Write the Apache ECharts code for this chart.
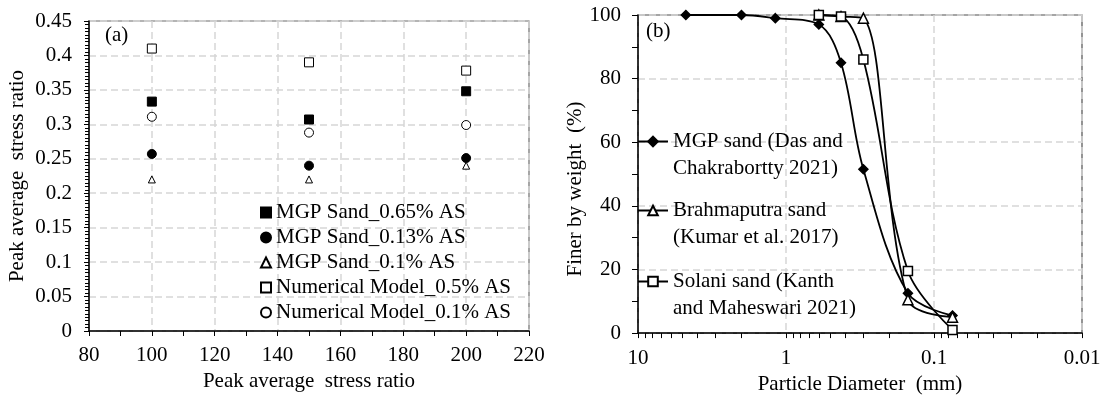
<!DOCTYPE html>
<html>
<head>
<meta charset="utf-8">
<script src="https://cdn.jsdelivr.net/npm/echarts@6/dist/echarts.min.js"></script>
<style>
  html, body { margin: 0; padding: 0; background: #fff; }
  #chart { width: 1104px; height: 400px; }
</style>
</head>
<body>
<div id="chart"></div>
<script>
// panel (a)
const stressLevels = [100, 150, 200];
const mgp065 = [0.333, 0.307, 0.348];
const mgp013 = [0.257, 0.240, 0.251];
const mgp010 = [0.220, 0.220, 0.240];
const num05 = [0.410, 0.390, 0.378];
const num01 = [0.311, 0.288, 0.299];

// panel (b)
const mgpDia = [4.75, 2, 1.18, 0.6, 0.425, 0.3, 0.15, 0.075];
const mgpFiner = [100, 100, 99, 97, 85, 51.5, 12.5, 5.5];
const brahDia = [0.6, 0.425, 0.3, 0.15, 0.075];
const brahFiner = [100, 99.5, 99, 10.5, 5];
const solDia = [0.6, 0.425, 0.3, 0.15, 0.075];
const solFiner = [100, 99.5, 86, 19.5, 1];

const logTicks = [10, 9, 8, 7, 6, 5, 4, 3, 2, 1, 0.9, 0.8, 0.7, 0.6, 0.5, 0.4, 0.3, 0.2, 0.1,
  0.09, 0.08, 0.07, 0.06, 0.05, 0.04, 0.03, 0.02, 0.01];

const FONT = 'Liberation Serif';
const FS = 21;
const pair = (xs, ys) => xs.map((x, i) => [x, ys[i]]);

const chart = echarts.init(document.getElementById('chart'));

const gridLine = { show: true, lineStyle: { color: '#d6d6d6', width: 1.5, type: [7, 4] } };
const axLine = { show: true, onZero: false, lineStyle: { color: '#000', width: 1.5 } };
const lbl = () => ({ color: '#000', fontFamily: FONT, fontSize: FS });

const namesA = ['MGP Sand_0.65% AS', 'MGP Sand_0.13% AS', 'MGP Sand_0.1% AS',
  'Numerical Model_0.5% AS', 'Numerical Model_0.1% AS'];
const namesB = ['MGP sand (Das and\nChakrabortty 2021)', 'Brahmaputra sand\n(Kumar et al. 2017)',
  'Solani sand (Kanth\nand Maheswari 2021)'];

function scatter(name, ys, symbol, size, fill) {
  return {
    name: name, type: 'scatter', xAxisIndex: 0, yAxisIndex: 0,
    symbol: symbol, symbolSize: size,
    itemStyle: { color: fill, borderColor: '#000', borderWidth: 1, opacity: 1 },
    data: pair(stressLevels, ys)
  };
}
function line(name, xs, ys, symbol, size, fill) {
  return {
    name: name, type: 'line', xAxisIndex: 1, yAxisIndex: 1,
    smooth: 0.35, symbol: symbol, symbolSize: size,
    lineStyle: { color: '#000', width: 1.8 },
    itemStyle: { color: fill, borderColor: '#000', borderWidth: 1.5 },
    data: pair(xs, ys)
  };
}

const bLegend = (name, top) => ({
  data: [name], left: 637, top: top, orient: 'vertical', padding: 0,
  itemWidth: 30, itemHeight: 12, itemGap: 0,
  formatter: n => '\n' + n,
  textStyle: { color: '#000', fontFamily: FONT, fontSize: FS, lineHeight: 27 }
});

chart.setOption({
  animation: false,
  textStyle: { fontFamily: FONT },
  grid: [
    { left: 89, right: 575, top: 21, bottom: 69, show: true, borderColor: '#6b6b6b', borderWidth: 1.2 },
    { left: 638, right: 22, top: 15, bottom: 59, show: true, borderColor: '#4d4d4d', borderWidth: 1.2 }
  ],
  xAxis: [
    {
      gridIndex: 0, type: 'value', min: 80, max: 220, interval: 20,
      name: 'Peak average  stress ratio', nameLocation: 'middle', nameGap: 40,
      nameTextStyle: lbl(),
      axisLine: axLine, axisTick: { show: true, length: 5, lineStyle: { color: '#000' } },
      minorTick: { show: true, splitNumber: 2, length: 5, lineStyle: { color: '#000' } },
      axisLabel: Object.assign({ margin: 14 }, lbl()),
      splitLine: gridLine
    },
    {
      gridIndex: 1, type: 'log', logBase: 10, min: 0.01, max: 10, inverse: true,
      name: 'Particle Diameter  (mm)', nameLocation: 'middle', nameGap: 37,
      nameTextStyle: lbl(),
      axisLine: axLine,
      axisTick: { show: false },
      axisLabel: Object.assign({ margin: 15, formatter: v => String(v) }, lbl()),
      splitLine: gridLine
    },
    {
      // minor log ticks only
      gridIndex: 1, type: 'log', logBase: 10, min: 0.01, max: 10, inverse: true, position: 'bottom',
      axisLine: { show: false },
      axisTick: { show: true, length: 5, customValues: logTicks, lineStyle: { color: '#000' } },
      axisLabel: { show: false },
      splitLine: { show: false }
    }
  ],
  yAxis: [
    {
      gridIndex: 0, type: 'value', min: 0, max: 0.45, interval: 0.05,
      name: 'Peak average  stress ratio', nameLocation: 'middle', nameGap: 61,
      nameTextStyle: lbl(),
      axisLine: axLine, axisTick: { show: true, length: 5, lineStyle: { color: '#000' } },
      minorTick: { show: true, splitNumber: 10, length: 4, lineStyle: { color: '#000' } },
      axisLabel: Object.assign({ margin: 17 }, lbl()),
      splitLine: gridLine
    },
    {
      gridIndex: 1, type: 'value', min: 0, max: 100, interval: 20,
      name: 'Finer by weight  (%)', nameLocation: 'middle', nameGap: 51,
      nameTextStyle: Object.assign({ padding: [0, 30, 0, 0] }, lbl()),
      axisLine: axLine, axisTick: { show: true, length: 6, lineStyle: { color: '#000' } },
      minorTick: { show: true, splitNumber: 2, length: 6, lineStyle: { color: '#000' } },
      axisLabel: Object.assign({ margin: 17 }, lbl()),
      splitLine: gridLine
    }
  ],
  legend: [
    {
      data: namesA, left: 260, top: 200, orient: 'vertical', padding: 0,
      itemWidth: 10, itemHeight: 10, itemGap: 0,
      textStyle: { color: '#000', fontFamily: FONT, fontSize: FS, lineHeight: 25 }
    },
    bLegend(namesB[0], 101),
    bLegend(namesB[1], 170),
    bLegend(namesB[2], 241)
  ],
  graphic: [
    { type: 'text', left: 105, top: 25, style: { text: '(a)', font: FS + 'px Liberation Serif', fill: '#000' } },
    { type: 'text', left: 646, top: 21, style: { text: '(b)', font: FS + 'px Liberation Serif', fill: '#000' } }
  ],
  series: [
    scatter(namesA[0], mgp065, 'rect', 9, '#000'),
    scatter(namesA[1], mgp013, 'circle', 9, '#000'),
    scatter(namesA[2], mgp010, 'triangle', 7, '#fff'),
    scatter(namesA[3], num05, 'rect', 9, '#fff'),
    scatter(namesA[4], num01, 'circle', 9, '#fff'),
    line(namesB[0], mgpDia, mgpFiner, 'diamond', 9, '#000'),
    line(namesB[1], brahDia, brahFiner, 'triangle', 10, '#fff'),
    line(namesB[2], solDia, solFiner, 'rect', 9, '#fff')
  ]
});
</script>
</body>
</html>
